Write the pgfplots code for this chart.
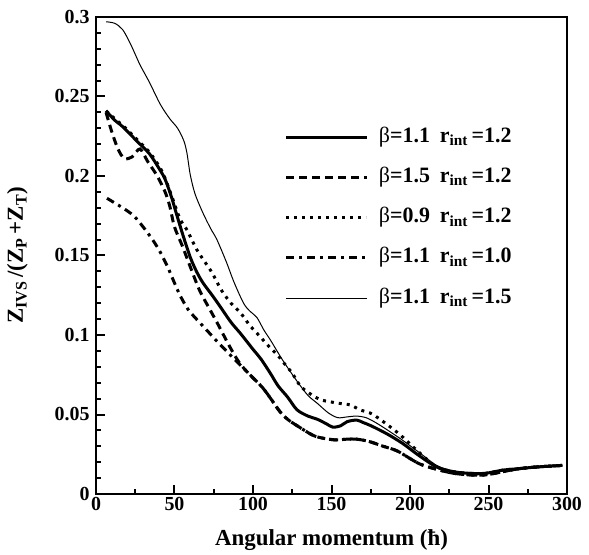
\documentclass[border=0pt]{standalone}
\usepackage{fontspec}
\setmainfont{Liberation Serif}
\usepackage{pgfplots}
\pgfplotsset{compat=1.18}
\begin{document}
\begin{tikzpicture}
\begin{axis}[
  scale only axis, width=471bp, height=477bp,
  xmin=0, xmax=300, ymin=0, ymax=0.3,
  xtick={0,50,100,150,200,250,300}, minor x tick num=1,
  ytick={0,0.05,0.1,0.15,0.2,0.25,0.3}, minor y tick num=4,
  xtick pos=bottom, ytick pos=left,
  major tick length=9bp, minor tick length=5bp,
  every tick/.style={black, line width=2bp},
  axis line style={black, line width=2bp},
  ticklabel style={font=\fontsize{20}{22}\selectfont\bfseries},
  /pgf/number format/assume math mode=true,
  yticklabel style={/pgf/number format/fixed,/pgf/number format/precision=2, xshift=-3bp},
  scaled y ticks=false,
  xlabel={Angular momentum (ħ)},
  ylabel={Z\textsubscript{IVS}\,/(Z\textsubscript{P}\,+Z\textsubscript{T})},
  every axis x label/.style={at={(axis description cs:0.5,-0.109)}, anchor=base, font=\fontsize{23}{25}\selectfont\bfseries},
  every axis y label/.style={at={(axis description cs:-0.155,0.5)}, rotate=90, anchor=base, font=\fontsize{23}{25}\selectfont\bfseries},
  legend image code/.code={\draw[#1] (0bp,0bp) -- (80bp,0bp);},
  legend style={draw=none, fill=none, at={(0.3945,0.776)}, anchor=north west,
    font=\fontsize{22}{24}\selectfont\bfseries, row sep=18.3bp,
    nodes={inner sep=0pt, text height=16bp, text depth=6bp},
    /tikz/every odd column/.append style={column sep=11bp}},
  legend cell align=left,
]
\addplot[black, line width=3bp, smooth] coordinates {
(6.4,0.241) (12,0.235) (17,0.231) (26,0.222) (34,0.214) (40,0.205) (44,0.198) (48,0.187) (51,0.177) (55,0.164) (60,0.149) (64,0.140) (68,0.133) (74,0.125) (79,0.118) (86,0.108) (92,0.101) (100,0.091) (105,0.085) (111,0.076) (116,0.068) (122,0.061) (128,0.053) (135,0.049) (141,0.047) (147,0.044) (151,0.042) (156,0.043) (160,0.0455) (166,0.0465) (170,0.045) (175,0.043) (185,0.038) (195,0.032) (206,0.024) (217,0.017) (228,0.014) (238,0.013) (248,0.013) (259,0.015) (270,0.016) (281,0.017) (297,0.018)};
\addlegendentry{{\mdseries β}=1.1\hspace{0.45em}r\textsubscript{int}\,=1.2}
\addplot[black, line width=3bp, dash pattern=on 8bp off 5bp, smooth] coordinates {
(6.4,0.240) (10,0.228) (14,0.217) (18,0.211) (23,0.212) (28,0.217) (33,0.209) (39,0.200) (44,0.190) (47,0.181) (50,0.168) (55,0.156) (60,0.143) (66,0.128) (72,0.117) (77,0.108) (85,0.093) (91,0.083) (97,0.076) (106,0.067) (112,0.059) (117,0.052) (122,0.047) (128,0.043) (138,0.037) (145,0.035) (153,0.034) (160,0.0345) (166,0.0345) (174,0.033) (183,0.030) (192,0.027) (206,0.019) (219,0.015) (228,0.013) (238,0.012) (248,0.012) (259,0.014) (270,0.016) (281,0.017) (297,0.018)};
\addlegendentry{{\mdseries β}=1.5\hspace{0.45em}r\textsubscript{int}\,=1.2}
\addplot[black, line width=3bp, dash pattern=on 3bp off 5bp, smooth] coordinates {
(6.4,0.241) (12,0.236) (19,0.230) (26,0.223) (34,0.215) (42,0.203) (48,0.188) (53.5,0.173) (58,0.166) (64,0.154) (70,0.145) (74,0.139) (80,0.128) (86,0.120) (92,0.114) (98,0.106) (104.5,0.099) (110,0.093) (116,0.087) (120,0.082) (125,0.076) (128,0.071) (131,0.067) (135,0.064) (139.5,0.061) (144,0.059) (149,0.058) (155,0.057) (162,0.056) (168,0.053) (174.5,0.051) (178,0.049) (185,0.044) (194,0.037) (206,0.026) (217,0.017) (228,0.014) (238,0.013) (248,0.013) (259,0.015) (270,0.016) (281,0.017) (297,0.018)};
\addlegendentry{{\mdseries β}=0.9\hspace{0.45em}r\textsubscript{int}\,=1.2}
\addplot[black, line width=3bp, dash pattern=on 8bp off 5bp on 3bp off 5bp, smooth] coordinates {
(7,0.186) (12,0.183) (17,0.180) (24,0.175) (30,0.168) (36,0.160) (41,0.152) (46,0.142) (49,0.135) (53.5,0.125) (58.7,0.116) (64,0.110) (71.5,0.102) (78,0.095) (85,0.088) (91,0.082) (97,0.076) (106,0.067) (112,0.059) (117,0.052) (122,0.047) (128,0.043) (138,0.037) (145,0.035) (153,0.034) (160,0.0345) (166,0.0345) (174,0.033) (183,0.030) (192,0.027) (206,0.019) (219,0.015) (228,0.013) (238,0.012) (248,0.012) (259,0.014) (270,0.016) (281,0.017) (297,0.018)};
\addlegendentry{{\mdseries β}=1.1\hspace{0.45em}r\textsubscript{int}\,=1.0}
\addplot[black, line width=1bp, smooth] coordinates {
(6.4,0.297) (12,0.296) (17,0.292) (22,0.283) (28,0.270) (34,0.259) (41,0.245) (47,0.236) (52,0.230) (56,0.222) (58,0.214) (60,0.201) (63,0.189) (68,0.177) (73,0.167) (77,0.160) (83,0.146) (88,0.133) (94,0.120) (98,0.115) (102.5,0.111) (107,0.103) (111,0.097) (119,0.084) (128,0.071) (135,0.062) (141,0.057) (148,0.051) (154,0.048) (160,0.0485) (166,0.049) (172,0.048) (178,0.045) (186,0.040) (195,0.034) (206,0.026) (217,0.018) (228,0.014) (238,0.013) (248,0.013) (259,0.015) (270,0.016) (281,0.017) (297,0.018)};
\addlegendentry{{\mdseries β}=1.1\hspace{0.45em}r\textsubscript{int}\,=1.5}
\end{axis}
\path ([shift={(-96bp,-59bp)}]current axis.south west) rectangle ([shift={(22bp,17bp)}]current axis.north east);
\end{tikzpicture}
\end{document}
